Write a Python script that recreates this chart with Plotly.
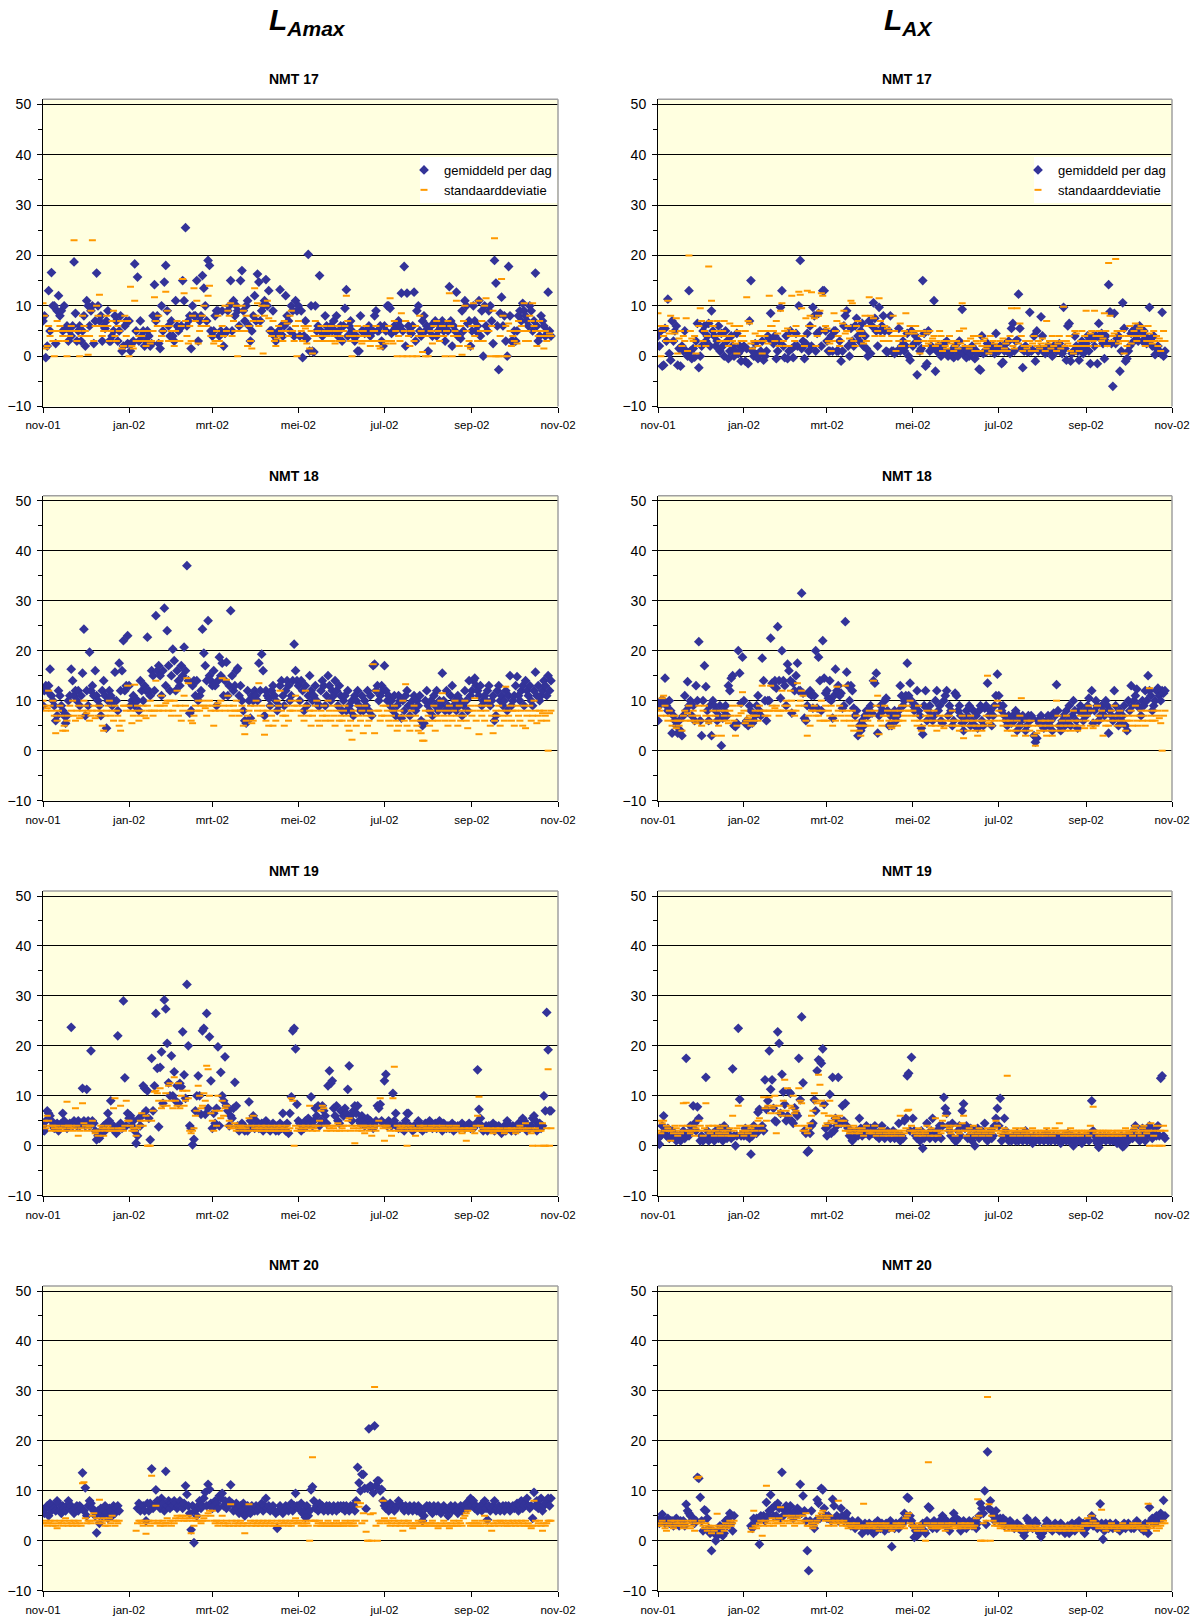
import pandas as pd
import plotly.graph_objects as go

W, H = 1199, 1621
FONT = "Liberation Sans, Arial, sans-serif"
START = "2001-11-01"

TICK_DATES = ["2001-11-01", "2002-01-01", "2002-03-01", "2002-05-01", "2002-07-01", "2002-09-01", "2002-11-01"]
TICK_TEXT = ["nov-01", "jan-02", "mrt-02", "mei-02", "jul-02", "sep-02", "nov-02"]
Y_TICKS = [-10, 0, 10, 20, 30, 40, 50]
STATIONS = ["NMT 17", "NMT 18", "NMT 19", "NMT 20"]
HEADERS = ["<b><i>L<sub>Amax</sub></i></b>", "<b><i>L<sub>AX</sub></i></b>"]
SERIES_NAMES = ["gemiddeld per dag", "standaarddeviatie"]

# ---------------- NMT 17 ----------------
nmt17_lamax_mean = [
    7,8,-0.3,2,13,5,16.6,10,10,2.5,9,12,8,9,5,10,5.5,6,3,5,4,6,18.7,8.5,3,5,6,3,5,8,
    2,11,10,6,9,10,2.5,7,16.5,10,7,8,3,6,5.5,7,9,3,3,4,5,8,7,3,5,8,1,2,6,7,2.5,
    7,1,2.5,3,18.3,5,15.7,3,7,4,5,2,3,5,4,2,2.5,8,14.2,7,8,2.5,1.5,10,5,14.7,18,9,6,4,7,
    4,3,11,6,5,5.5,6,15,11,25.5,6,7,8,1.5,10,8,8,15,3,7,8,16,13.5,10,7,19,18,5,
    4,5,8,9,9,4,5,9,2,4.5,5,9,10,15,5,11,8,10,9,6,15,17,9,7,10,11,6,3,5,8,12,
    7,16.3,14.7,7,9,10,11,15.2,10,13,5,5,9,4,3,4.5,5,13.2,6,4,6,12,8,7,5,10,9,4,11,9,
    10,4,9,-0.3,4,7,3.5,20.2,1,10,1,0.8,10,5,6,16,5,4,4.5,8,6,5,5,6,5,7,5,8,4,5,6,
    3,6,9.5,13.2,4,6,7,5,4,3,4,1,1,8,5,5,4.5,5,5,6,4,5,5,8,9,5,5,6,3,2,
    6,5,10,10,9.5,4.5,5,6,5,5.5,7,6,12.5,5,17.8,2,12.5,6,5,4.5,6,12.7,3,9,10,5,4,7,8,5,6,
    1,5,6,4,6.5,7,4,5,6,6,7,5,3,6,5,13.8,7,2,6,5,12.7,4,4,3.5,9,5,11,10,6.5,7,2,
    5,10,7,5,6,11,4,9,0,10,6,5,9,10,7,2.5,19,14.5,6,-2.7,8.5,11.7,6,8,3,0,17.8,8,3,3,
    5,3,5,8,9,7,10.5,9,8,7,6,10,9,5,7,16.5,6,3,4,8,7,6,4,5,12.7,5,4,
]
nmt17_lamax_std = [
    10.5,8,1.5,2,6,4,5,3,0,5,7,3,6,5,4,5,3,0,5,4,6,5,23,5,3,5,0,4,8,6,
    5,4,0.3,4,9,23,3,6,10,8,12.2,6,4,5,6,8,6,3,5,7,9,4,3,6,5,7,1.5,2,8,4,7,
    0,13.8,2,1.5,11,3,5,4,3,4,5,3,2,5,3,2.5,3,5,11.7,7,6,8,3,4,5,6,12.8,9,3,6,5,
    3,2,5,7,3,3,6,15.3,12.5,7,4,2.5,6,3,8,13.5,7,11,2.5,5,6,8,10,7,6,12,14,4,
    4,2.5,3,5,8,3,2,6,4,10,5,9,8,10.5,4,7,5,10,0,6,5,10,9,5,8,2,6,3,1.5,7,13.5,
    8,10.5,6,7,10,0.5,8,10,11,7.5,5,4,7,3,2,3.5,6,4,5,3,7,5,6.5,4,8,9,5,3,6,0,
    7,4,5,3,6,5.5,2.5,6,1.5,5,0.5,4,7,3,5,4,6,3,6,5,4,3,5,6,3,4,2.5,5,6,3,4,
    3,5,6,12,7,4,3,0,4,3,5,6,3,4,2.5,5,3,6,4,3,2,3,5,5,6,3,2,1.5,3,3,
    5,2.5,3,6,11.5,3,2.5,7,5,0,4,3,8.5,0,5,7,0,4,2,5,0,3,6,0,4,8,5,0.8,4,0,4,
    0,4,5,2.5,6,4,7,5,3,4,6,4,0,5,7,12.5,6,0,4,5,11,4,2,6,0.3,7,10,5,2,3,1.5,
    6,10.5,4,6,3,11,5,7,3,10,11.5,5,5,0,6,9,23.4,0,0,0,4,15.3,8,0,6,0,6.5,5,2,4,
    3,5,2.5,7,5,6,5,10.5,3,5,3,8,7,10.5,6,5,2,4,7,5,4,1.5,5,3,4,4.5,4,
]
nmt17_lax_mean = [
    4,2,5,-2,-1.8,5.5,3,11.3,0.5,-0.8,7,3,5,6,-1.8,1.5,-2,2,1,5,1,0,13,1,-0.5,1.5,-0.2,3,6.5,-2.3,
    0,2,5,6,3,4,6.5,2,9,5,4,2,3,6,1,4.5,2,0,5,3,-0.5,1,4,2,0,1,4.5,0.5,2,-1,1.5,
    2,-1,1.5,-1.5,7,15,1,0,2.5,0.3,-0.5,0.5,1,3,-0.8,0,1,4,3.5,8.5,3,2.5,4,-0.5,1,3,9.7,13,2,-0.3,4,
    -0.5,1,5,1.5,-0.3,2,4.5,2,10,19,1.5,3,-0.5,2.5,4.5,1,6,2,9.7,8,1,4.5,8.5,5,2,13,13,5,
    3,1,1,4,1,5,5,1,1,3,-1,1,6,8,9,2,0,5.5,3,2,6,7.5,4,3,5,6.5,2,4,1.5,0,7,
    0.5,6,10.6,7.5,5,2,9.7,5,6,8,5,1,0.8,5,8,1,1,0.5,0.8,1,5.5,1,2,3,1,2,4.5,0,-0.8,5,
    2,2.5,4,-3.7,3,1,1.5,15,4.5,-2,-1.5,5,1,2,1.5,11,-3,1,2,0.5,0,1.5,2.5,1,3,0,0.5,1,0,-0.3,2,
    1,0,3,1,9.3,0.5,1.5,-0.3,1,0,0.5,2,1.5,-0.5,1,0.5,-2.6,-2.8,4,0.5,1,0.8,2.5,1.5,1,1.5,2,0.5,4.5,1.5,
    1,2,-1.5,-1.2,1,2.5,1,3,0.5,5.5,6.5,1,3,3.2,12.3,5.5,1.5,-2.3,1,2,1,0.8,8.7,1,1.2,4,-1,5,1,1.5,7.8,
    4,1,0.5,0.8,2,1.5,1,0,2,1.5,1,2,2.5,1,0.5,9.7,1.5,-0.8,6,6.5,-1,0.5,1,4,2,1,-0.8,2,3,0.5,1.5,
    2.5,4,1,-1.5,3.5,4,2,4,-1.5,6.5,3.5,4.5,2.5,-0.5,4,2.7,14.2,8.8,2.5,-6,8.5,2.5,3.5,4,-3,1,10.6,5.5,-1,-0.5,
    1,2,4.5,5,3,5.5,4,3,6,5,3,5,4,2.5,3,9.7,3.5,2,4,0.3,1.5,2,1,0.5,8.7,0,1,
]
nmt17_lax_std = [
    8.5,6,0,5,4,6,3,11,4.5,8,5,3,4.5,7.5,0.5,3.5,5,2,4,3,7.5,1,20,5,3.5,3,4,0.5,2,6,
    9.5,7,3,5,2,4,17.8,7,11,6,5,4,7,5,3,4,5,7,3,4,2,6.5,4,3,6,2.5,0.5,5,6,3,4,
    3,5,11.7,7,6.5,2.5,1.5,3,4.5,3,2,4,5,0.5,3,4,5,2.5,12,6,6,5,3,7,4.5,2,9,10.5,3,5,2,
    5.5,2,4,12,5,3,6,4,12.8,12.2,9.5,4,2,7.5,13,6,8,12.7,6,7.5,2,4,8,9,12.5,12,5,6,
    5.5,3,2.5,1,3,8.5,5,7,4,2,3,6.5,9,4.5,5,6,3.5,11,10.5,3,2,6,7,5,5,4,2.5,8,3,6,11.7,
    8,6,7.5,4,6,5,11.5,7,4,3,6,3,5.5,3,5,4,8,5,1,4,3,6.5,2,4,5,8.5,3,4.5,6,2,
    5,4.5,6,3,5,0.5,4,5,3,2,4.5,2.5,5,3,3.5,4,2,3,2.5,5,4,1,3,2,1.5,3,4,2.5,3,1,2,
    3,1.5,5,2.5,10.5,5.5,2,3,2,1.5,3.5,2,4,1,3,2.5,4,1,2,3,3.5,1.5,2,0.5,4,1,3,2.5,1,2,
    2,3,1,3.5,1.5,2.5,1,3,4,9.5,2,1.5,3,9.5,2.5,6.5,4,1,2,3,1.5,2,3,1,2.5,4,1,2,3,1.5,2.5,
    3.5,2,1,7,2.5,3,1.5,4,2,3,1,2.5,4,1.5,3,9.8,2,3,2.5,4,1,2,0.5,5,4.5,2,1,3,5,2,4,
    9,3,2,4.5,5,3,9,4,2,5,4,3,3.5,8.5,5,2,18.5,8,3,4,4.5,19.3,5,2.5,3,4,5,0.5,3,2,
    4,6,2.5,4,5,6.5,3,4,5.5,6,4,5,2,3,6,4.5,3,2.5,5,3,4,2,3.5,1,3,5,3,
]

# ---------------- NMT 18 ----------------
nmt18_lamax_mean = [
    9,12,13,12,13,16.3,11,10,9,6,7,12,11,9,8,7,5.5,7,10,11,16.3,14,11,12,10,12,9,11,15.5,24.3,
    7,12,9,19.7,12,13,11,16,11,10,9,7,12,14,11,4.5,10,12,11,9,10,15.7,10,8,17.5,12,16,22,12,13,23,
    13,9,10,11,9,10,10,8,14,12,10,13,12,22.7,12,11,16,15,12,27,16,17,15,11,16,28.5,13,24,17,12,15,
    20.3,18,12,16,14,13,17,15,20.7,16,37,14,7.5,8,13,14,11,14,10,11,12,24.3,19.5,17,14,26,15,14,
    13,16,13,9,14,18.7,15,17.5,11,14,17.7,11,13,28,15,12,13,16,16.5,11,13,10,8,6,5.5,12,10,6.5,11,10,12,
    11,10,17.5,12,19.3,16,7,12,11,10.5,9,12,13,11,10,8,9,13,14,11,9,12,14,13,10,11,14,21.3,16,14,
    13,10,14,12,8,13,9,11,15,12,10,11,13,10,9,9,12,14,13,9,11,15,13,10,12,11,14,12,9,13,11,
    8,10,11,8,12,9,8,10,7,11,10,12,9,8,11,8,10,9,12,8,11,7,17,17.3,12,13,10,11,13,12,
    17,12,10,11,9,10,8,11,7,9,11,10,6.5,10,8,11,12,9,7,9,10,11,8,10,9,11,6,5,5.5,10,12,
    9,8,10,7,11,9,12,8,10,9,15.5,10,8,12,9,8,11,13,9,10,8,11,9,10,7,9,12,10,8,14,11,
    12,14,14.5,13,12,11,13,9,10,11,10,12,13,9,10,11,6,7,12,13,10,11,9,10,12,8,11,15,9,10,
    11,13,14.8,11,10,12,13,9,14,12,11,13,10,9,12,15.7,11,13,10,11,12,14,13,11,15,12,14,
]
nmt18_lamax_std = [
    10,9,8,8.5,12,9,8,10,7,3.5,6,8,9,7,4,5,4,6,7,9,8,10,7,6,8,9,6.5,7,8,10,
    9,7.5,8,6,7,8,9,6.5,8,7,9,8,5,4,7,8,9,10,7,8,6,9,8,7,5,4,6,9,9,8,13,
    9,8,5.5,7,13.2,8,9,6,7,8,9,7,6.5,9,8,10,8,7,8,14,9,8,9,11,8,9,9.5,10,8,10,7,
    8,10,9,12,7,9,6,8,11,9,14.5,13.5,8,6,5.5,7,9,8,10,8,9,10,9,8.5,7,9,10,8,
    9,5,8,9,9.5,8,10,14.5,9,8,14.2,11,9,8,7,9,8,10,8,7,8,9,5,3.3,6,7,8,9,5.5,6,9,
    10,8,13.5,7,9,8,3.2,6,8,5,9,7,5,8,6,10,9,12,8,7,5,7,9,6,8,10,8,9,11,9,
    10,8,7,9,6,12,9,7,8,5,7,8,9,10,6,5,8,7,9,6,7,10,8,6,9,7,5,8,9,6,7,
    6,8,9,7,5,4,6,2.2,8,7,5,9,7,6,8,3.5,9,7,5,6,8,7,17.3,3.5,12,8,8,6,7,9,
    7,9,8,6,5,7,8,9,6,4,5,8,7,10,6,13.3,5,7,4,8,6,9,7,5,4,6,3.5,2,2,8,6,
    7,5,8,6,9,4,7,6,8,10,11.5,7,6,8,5,9,7,6,8,10,7,5,9,6,8,7,10,6,4.5,8,9,
    7,8,10.5,6,9,3.3,8,7,9,6,8,10,9,5,7,3.5,6,8,7,9,5,8,7,6,12.8,8,7,9,6,8,
    5,8,9,7,6,8,5,9,4.5,7,8,9,6,7,10,8,5.5,7,8,6,7.5,8,7,6,0,7.5,8,
]
nmt18_lax_mean = [
    6,9,10,10,10,14.5,9,8,10,8,3.5,7,6,5,3.5,6,4,3,7,11,8,13.8,9,10,7,9,6,13,10,21.8,
    6,3,10,17,12.8,8,6,9,3,10,9,8,6,7,9,1,6.5,8,9,7,13,12,14.5,15,5,4.8,5.5,20,15.5,9.5,18.7,
    10,5.5,6,5,9,8,5.5,6,7,9,11,8,7,18.5,14,10,6,10,10,22.5,13.5,13,14,12.5,24.8,14,10.5,20,14,13,9,
    17.3,16,14,7.5,13.5,12,15,17.5,12,12,31.5,11.5,6.5,6,9,11.5,12,11,8.5,11,20,8.5,18.7,14,8,22,14.5,11.5,
    12,10.5,14,10,6.5,11,16.3,12,13,11,11.5,8.5,9,25.8,15.7,13,10,13,12,8.5,7,8,3,5,4,6,5,7,8,7,8,
    9,7.5,14,13.5,15.5,3.5,7,9,8,8,10,10.5,8,5,7,5,7,8,6,7,8,13,11,9,10,11,17.5,11,13.5,10,
    9,8,9,12,8,7,4.5,3.3,9,12,6,8,9,7,6,7,10,12,8,9,6,5.5,10,11,12,7,9,8,5,6,11.5,
    11,8,9,7,5.5,4,6,8,7,9,5,6,8,5,7,4.5,8,9,6,5,8.5,9,13.5,7,8,5,7,9,11,15.3,
    11,9,8,9,7,6,5,7,6.5,5.5,7,6,8,4,7,5,6,7,6.5,4,5,7,6,7,6.5,3,1.7,2.5,6,5.5,7,
    6,4.5,5,6,7,5,6,4,7.5,7,13.2,8,5,4,6,7,5,8,6,9,5,7,10,8,6,4.5,8,9,7.5,6,8,
    7,9,10.5,8,12,5.5,8,10,9,6,7,9,8,7,10,9,3.5,8,7,6,12,9,7,5,8,6,7,9,5,4,
    10,8,13,9,10,11,12.3,9,8.5,7,10,9,12,10,15,12,11,8,9,10,12,12.5,11,10,12,11.5,12,
]
nmt18_lax_std = [
    8.5,8,7,10.5,11,9,7,6,8,7,5,6,7,4.5,6,5,6,4,7,8,6,7.5,9,6,7,8,6,5.5,7,9,
    6,5,8,9,7,6,5.5,7,6,8,3,7,6,5,8,3,6,7,8,6,5.5,8,7,9,6,3,5,7,9,7.5,11.7,
    8,5.5,6,6.5,7,5,6,7,8,7,6,9,8,13,8,7,8,7,8,13,9,8,8.5,9,8,7,8,12,8,9,10,
    9,8,12,10,8,7,8,13.5,9,10,12,11,9,6,3,7,5,8,8,9,7,8,7,6,10,8,6,9,
    6,8,7,9,5,7,6,12.8,8,9,7,8,6,13,8,7,6,5,8,4,6,7,5,4,3,5,6,5,7,6,8,
    5,7,14,8,9,11,3.3,6,5,7,9,7,8,6,5,4.5,6,8,7,5,6,8,9,6,7,8,9,8,10,7,
    8,6,7,5,9,6,4,5,6,7,8,6,7,5,6,8,5,4,6,7,5,6,4.5,7,6,5,7,6,8,5,6,
    5,6,4,5,7,2.5,6,5,4,6,7,5,6,4,5,3,6,5,4,6,5,7,15,5.5,6,5,7,6,9,10,
    8,7,6,5,7,6,4,5,6,4,5,3,4,6,5,7,10.5,4,5,3,6,5,4,6,5,3,1,3.5,5,4,6,
    5,4,6,3,5,4,6,3,5,4,10,7,5,4,6,5,4,7,5,6,4,5,8,6,5,4,6,7,5,8,4.5,
    6,7,9,5,8,4.5,6,5,9,7,6,8,3,6,5,7,5,6,8,7,9,6,5,7,8,6,5,7,4,6,
    7,6,8,5,7,9,6,5,7,8,6,7,5,8,6,12.5,7,6,8,6,7,8,6.5,5.5,0,7,8,
]

# ---------------- NMT 19 ----------------
nmt19_lamax_mean = [
    4,3,5,7,6.5,6,5,4,3.5,4,4.5,3,4,4.5,6.5,5,4,3.5,4,4.5,23.7,4,5,4.5,4,5,4,4.5,11.5,5,
    4,11.3,5,4,19,5,4.5,3,1.2,2,1.5,3,2.5,4,3,4.5,6.5,5,9,3.5,4,3,2.5,22,4,4.5,3.5,29,13.6,4,6.5,
    5.5,6,4,5,3,0.5,2,5.5,4,6,12,11.5,7,11,5.5,1.2,17.5,7,12,26.5,15.5,3.8,15.7,18.8,8.5,29.2,27.4,20.5,12.6,10,18,
    10,14.8,9,12,8.5,12.5,11.8,22.8,14.2,9.5,32.3,20,4,3.5,0.2,1.3,7,10,14,10,6.3,23,23.5,6.3,26.5,7.5,21.8,13,
    3.5,6.5,4.5,7.5,19.8,4,14.7,10,9,17.8,8,7,4,6,5.5,7.5,12.7,8,4,3,3.5,4.5,4,3,3.5,3,8.8,5,4,6,3.5,
    5,4,3.5,4,4.5,3,4,5,3.5,4,3,3.5,4.5,4,3,4,3,4.5,3.5,6.5,4,3,4.5,2.5,6.5,9.8,23,23.5,19.4,8.3,
    5,4.5,3,4,3.5,5,4,5.5,4.5,9.8,4,5,7.5,6,8,4,5,8,7,6,4.5,12,15,12.5,13,7.5,6,8,5,4.5,7,
    7,6,7.5,6.5,11.3,16,6,5,7,8,6.5,8,5,4.5,6,5,4,4.5,5.5,4,5,4.5,3.5,4,5,8,7.5,8.3,5,4.5,
    13,14.3,4,5,4.5,4,10.5,5,6.5,4,3.5,4,3.5,4,3,5,6.5,6.5,4,3.5,3,4,3.5,4,5,3.5,4,3,4,4.5,3.5,
    4,5,4,3.5,4,4.5,3.5,4,5,4,3,4.5,4,3.5,4,3.5,4,4.5,3,4,3.5,4,3.5,4,4.5,4,3.5,4,4,4.5,3.5,
    4,3.5,4,4.5,15.2,7.3,5.5,4,3,3.5,4,3,4,3.5,4,4.5,3,4,3.5,4,3,2.5,3.5,4,3,5,3.5,4,3,4,
    3.5,3,4,4.5,3.5,4,5.5,5,4,3,4,3.5,4,5.5,6,5,3,4,4.5,3.5,4,10,7,26.7,19.2,7,7,
]
nmt19_lamax_std = [
    4,5,3.5,6,5,4,3,4,3.5,3,4,3.5,3,3,3.5,4,3,8.8,4,3.5,4,3,3.5,7.5,4,2,3,3.5,8.5,4.5,
    4,3,3.5,4,4,5,3,2.5,3,2,3,4,3.5,2,3,3.5,4,3,3.5,3,7.5,9.5,3,3.5,3,8,3.5,3,4,9,5,
    5,4,3,3.5,3,2,3.5,4,5,6.5,4,5,6,0,0,0,5,7,10.8,11,10.5,9,11.5,7.5,8,9,10.5,8,12,12.5,9,
    7.5,13.7,9,8,12.5,7.5,10,11,8,9,11,9.5,3,2.5,3,3.5,6,7,12,10,7.5,8,10.5,9,16,15.3,10,6.5,
    5,3,7,4,10,7,5.5,9,6,7.5,8,4,5,3.5,4,3.5,4.5,3,4,3.5,4,3.5,3,4,3.5,3,5.5,4,3,6,3.5,
    4,3,3.5,3,4,3.5,3,4,3,3.5,3,4,3,3.5,3,4,3,3.5,4,3,3.5,3,4,3,3.5,9.5,9,0,4,3,
    3.5,3,4,3,3.5,4,3,3.5,8,4,3,3.5,4,3,4,5,7,8,7.5,4,3,4,3.5,3,4,3.5,4,3,4.5,3,4,
    3.5,4,3,4,5,5.5,3,4,3.5,0.5,4,3,3.5,4,3,4,2.5,3.5,4,3,3.5,2,4,3.5,3,4,5,9.5,4,3.5,
    1,4,4,3.5,3,2,9.5,15.8,3,4,3,3.5,4,3.5,3,4,0,3.5,3,4,3.5,3,2,3.5,3,4,3,3.5,4,3,3.5,
    3,3.5,4,3,3.5,3,4,3,3.5,3,4,3.5,3,3.5,3,4,3,3.5,3,3.5,4,3,3.5,3,2.5,3,3.5,1,3,3.5,3,
    3,3.5,2.5,4,6,9.8,4,3,3.5,3,3.5,3,3,3.5,3,2.5,3,3.5,3,3,3.5,3,3,2.5,3,3.5,3,3,3.5,3,
    3,2.5,3.5,3,4,3,3.5,3,4.5,3,3.5,3,2.5,0,3,3.5,3,0,3,3,4.5,0,0,3.5,15.3,0,3.5,
]
nmt19_lax_mean = [
    1.5,0.3,2,4,6,3,2,3.5,1.5,2,3,2.5,1.5,1,2,1.5,1,2.5,3,1.5,17.5,2.5,2,4,3,8,4.5,3,7.8,5.5,
    1,2,1,1.5,13.7,3,1,1.5,2,2.5,1,3,2,1.5,3.5,2,1,4,2.5,1.5,3,2,1.5,15.4,2,0,2,23.5,9.3,2,2.5,
    2,3.5,2,3,1.5,-1.7,2,4,3,2.5,6.7,7.3,3.5,4,3,13.2,7.3,9,19,11.3,13.2,7.5,5,4.8,22.8,20.5,6.5,14.3,10.8,8.3,5,
    6,10.8,10.5,5,4.5,7.6,6.5,6,17.5,9.2,25.8,12.6,3,2.5,-1.3,-1,2.5,4,4.5,9.2,7,15,17.2,17,16.5,19.4,8.3,3.5,
    2,4,10.3,2.5,13.7,3,5.5,4,13.7,5,4.5,8,5,8.5,4,3.5,2,3,1,1.5,2.5,3,2,5.5,3.5,2,3,2.5,4,3,2,
    3.5,2.5,3,4,2,2.5,1.5,3,4,2,1.5,2.5,3,2,1.5,2,3,1.5,2.5,2,4.5,1,2,1.5,5,5.5,14,14.5,3,17.7,
    5.5,3,2,1.5,2.5,1,3,-0.5,1.5,2,4.5,2.5,1.5,3,5.5,2,1.5,3,2,4,1.5,4,9.7,7.5,6.5,4,3,2,4.5,1.5,1,
    1,3,4,2,7,8.4,3.5,4,1.5,2,3.5,1,2,0,2.5,3.5,1.5,2,3,2,4.5,1.5,1,2.5,3,1.5,2,4,5.5,7.5,
    4,9.5,1,2,5.5,3,2,1,1.5,1,2,1.5,1,2.5,1,1.5,2,1,1.5,3,1,2,1.5,1,0.5,2,1,1.5,2,1,1.5,
    2,1,1.5,2.5,1,2,1,1.5,2,1,1.5,2,1,0.5,1,2,1.5,1,2.5,1,1.5,2,0,1,1.5,1,2,1.5,0.5,1,2,
    1.5,2,1,2.5,9,3,2,1,0.5,-0.3,2,1,1.5,2,1,1.5,2,1,1.5,1,2,1,0.5,1.5,1,2,-0.2,0,1,2,
    1,2,2.5,1.5,3,4,2,1.5,1,2,3.5,2.5,1,2,3,4,2,1.5,2.5,3.5,2,4,2,13.5,14,2,1.5,
]
nmt19_lax_std = [
    3,5,2.5,4.5,5,3,4,3.5,3,1,3,2.5,4,3.5,2,3,2.5,4,8.5,3,8.6,4,3,2.5,3,4,2,3.5,3,5,
    4,3,2,3.5,8.5,3,4,2.5,3,4,2,3,4,2.5,3.5,2,3,4,2.5,3,2,3.5,2,6,3,2,3.5,8,4,2.5,3,
    2,3,4,2.5,3,3.5,4,2,3,4,5,5.5,4,3,9.7,7.5,5,8,9.7,6.5,7.5,8,10,2.5,6.5,8,7,6,9,13.2,7,
    11.5,6,8,7.5,10,6.5,7,4,11.5,9,8.5,3,4,3,2.5,3.5,4.5,6,7,10.5,9,8.5,14.2,12.2,9,8,6.5,4,
    4.5,6,9,5,6,4.5,5.5,5.5,4,6,5,4,5,3,4,3,2.5,3.5,3,4,2.5,3.5,3,2.5,3,3.5,2,3,4,3,2.5,
    3,2.5,3,4,2,3,2.5,3,3.5,2,3,2.5,3,2,3,2.5,3,2,3,2.5,3,6,2,3,2.5,3.5,7,7.2,3,4,
    3,2.5,3,2,3.5,2.5,3,2,3,2.5,4,3,2,3.5,3,2,5.5,3,2,3,2.5,5,4,6,3,4,3.5,2.5,3,4,2,
    3,4,2.5,3,4.5,6,3,2,3,3.5,2.5,3,4,2,3,2.5,3.5,3,2,3,2.5,3,3.5,2,3,2.5,3,3.5,5,4,
    3,2.5,2,3,3.5,2.5,14,3,2.5,3,2,3,3.5,2.5,3,2,3,3.5,2.5,3,2,3,2.5,3,3.5,2,3,2.5,3,2,3,
    2.5,3,2,3.5,3,2.5,3,2,3,3.5,2.5,3,4.5,2.5,3,2,3,2.5,3,2,3.5,2.5,3,2,3,2.5,3,2,3,2.5,3,
    2.5,3,2,4,3,7.8,3,2.5,3,2,3,2.5,3,2,3,2.5,3,2,2.5,3,2,2.5,3,2,3,2.5,2,3,3.5,2.5,
    3,2.5,3,2,3.5,4,3,2.5,3,2,3.5,4,3,2.5,3,0,4.5,3,2,0,4,3,0,3,0,4,3,
]

# ---------------- NMT 20 ----------------
nmt20_lamax_mean = [
    6,5.5,6.5,7,5,7.5,6,7,6.5,6,8,7.5,6,5.5,7,6.5,6,7,8,6.5,7,6,5.5,6.5,7,6,7,6.5,13.6,6,
    10.6,5,7,8,7.5,6.5,6,5,1.6,6,3.5,6.5,5,6,7,5.5,4.5,6.5,6,5,7,5.5,6.5,7,6,None,None,None,None,None,None,
    None,None,None,None,None,None,6.5,7.5,6,6.5,7,6,4,7.5,6,7.5,14.4,6.5,7,10.2,8,7,6.5,8.5,7.5,6,13.9,7,8,6.5,7.5,
    7,8,7.5,6.5,7,8,7,6.5,7.5,11,9.3,7,5.5,2.2,7,-0.4,6,5,7,8,6.5,7,8.5,9.7,7,11.3,10.3,7.5,
    6.5,7,8,7.5,6.5,9,8.5,9.5,7,8,6.5,7,8,11.2,7.5,6,7,7.5,6.5,5.5,7,6,7.5,5,6.5,7,6,5.5,7,6.5,6,
    7,6,6.5,7,7.5,6,7,8.5,6.5,7,6,6.5,7,6,5.5,2.5,6,7,6.5,5.5,6,7,6.5,6,7,7.5,6,7,9.5,7,
    6.5,7,7.5,5.5,6,4.7,7,5,6,10.2,10.8,8,6.5,7,6,7.5,6.5,7,6,6.5,7,6,7,6.5,6,7,6.5,6,7,6.5,7,
    6.5,7,6,7,6.5,6,7,6.5,7,6,8,14.7,11.6,10,13.3,13.3,10.5,6.4,10.5,22.4,11,10.8,9.6,23,11,12,12,10,10.3,8,
    7,6.5,7,6,7.5,6.5,7,6,6.5,7,8,7.5,7,6.5,6,7,6.5,6,7,6.5,6,7,6.5,6,7,6.5,5.5,4,5,6.5,7,
    6.5,7,6,5.5,7,6.5,6,7,6.5,5.5,6,7,6.5,6,5,6.5,7,6,6.5,7,6,5.5,6.5,7,6,6.5,7,7.5,6.5,8,8.5,
    7,8,6.5,7,6,6.5,7,6,7.5,8,6.5,4.2,7,6,6.5,7,8,6,6.5,7,6,6.5,7,6,7,6.5,7,6,6.5,7,
    6.5,7,7.5,6,7,8,6.5,7,7.5,8.5,7,6.5,7,4.5,9.7,7,8,6.5,7,8.5,6,7,7.5,8,8.5,7,8.5,
]
nmt20_lamax_std = [
    3.5,3.5,4,3,3.5,4,3.5,3,4,3,2.5,3.5,4,3.5,3,4,4.5,3.5,3,4,3.5,3,4,3.5,3,4,3.5,3,11.5,11.7,
    4.5,3.5,4,4,3.5,5,5.5,4,4.5,3.5,8.2,4,3.5,4.5,3,4,3,4.5,3.5,5,4,3,4,3.5,4,None,None,None,None,None,None,
    None,None,None,None,None,2,3.5,4,4,3.5,3,4,1.4,3.5,4,3,13,4,3.5,7,3.5,4,3,3.5,4,3,3.5,4.5,3.5,4,3,
    4,3.5,4.5,5,4,4.5,5,5,4,4.5,4,5,4.5,1.5,4,3,4.5,4,5,4,3.5,4,4.5,5,4,5.5,6,5,
    6,4,3.5,4,3,3.5,4,5,3.5,3,4,3.5,3,7.3,4,3,3.5,4,3,3.5,4,3,3.5,1.5,3,3.5,7.3,4,3,3.5,4,
    3,3.5,4,3,3.5,4,3,3.5,4,3,3.5,4,3,3.5,3,4,3,3.5,4,3,3.5,4,3.5,3,4,3,3.5,4,4.5,3.5,
    3.5,4,3,3.5,3,4,3.5,3,0,4,16.7,4,4,3,3.5,4,3,3.5,3,3.5,3,4,3,3.5,3,3.5,3,4,3,3.5,3,
    3.5,3,4,3.5,3,3.5,4,3,3.5,3,4,7.7,6.8,7.5,3.5,5.5,4,1.8,0,0,5.3,0,5.5,30.8,3,0,4,3.5,4,8,
    4.5,4,3.5,4,3,3.5,4.5,4,3,3.5,4,3,3.5,2,4,3,3.5,4,3,3.5,2.5,3,3.5,3,4,3.5,3,4,3,3.5,3,
    3.5,3,3.5,4,3,3.5,3,2.5,3,3.5,3,4,3,3.5,3,2.5,3.5,3,4,3,3.5,3,4,3.5,3,4.5,5,5.5,6,3.5,3,
    3.5,3,4,3.5,3,3.5,3,4,3,5,3.5,4,3,3,2,3.5,3,4,3.5,3,4,3.5,4,3,3.5,3,4,3.5,3,4,
    3.5,3,4,3.5,3,4,3.5,3,4,3,3.5,3,2.5,3,8,4,3,3.5,4,3,2,3.5,3,3.5,4,4,4,
]
nmt20_lax_mean = [
    4,3.5,4.5,5.3,4,3.5,4,4.5,3.5,4,4,3,3.5,4.5,4,3,4,3.5,4,3,7.3,6,5.5,5,4,4.5,3.5,4,12.7,12.5,
    8.7,4,2,6.2,6,4.5,2.5,1.5,-2,2,1.5,0,1,2,3,2.5,1,1.5,4,3,4.5,5.5,3.5,2,5,None,None,None,None,None,None,
    None,None,None,None,None,3,2.5,4.5,4,4.5,4,-0.7,5,4.5,5,4,7.7,5,6,9.2,6.5,5,7,5,7.5,6.5,4.5,13.7,5,6,7,
    6,5.5,7,5,4.5,6,5,6.5,5.5,11.3,5.5,9,6,4,-2,-6,4,6,3,2.5,4,8.2,7.5,4.5,10.5,10.2,6.5,5,
    4.5,5,4.5,4,8.3,7,4.5,5,4,4.5,6.5,5,4,5,5.5,4,3.5,3,4,3.5,2.5,3,4,3.5,3,1.5,2.5,3.5,3,2,3.5,
    3,2.5,1.5,3.5,2,4,3,2.5,3.5,3,2,3.5,3,2.5,4,-1.2,3,2.5,3.5,3,2.5,3,4,3.5,5.5,4.5,8.7,8.5,5,4,
    3,0.7,2,1,1.5,2.5,3,3.5,2,1.5,4,6.8,6.5,3,2.5,4,3.5,2.5,3,4,3.5,5,4.5,3,4,3,2,3.5,4,5.5,4,
    4.5,3.5,4,2,3,4,3.5,2.5,3,4,3.5,3,4,3,2.5,3.5,5,7.5,6.5,5.5,10,3.3,17.8,6.5,8,6,5,4,6,4.5,
    4,4.5,3.5,4.5,3,4,3.5,3,4,3.5,3,2.5,3,3.5,2.5,3,2,2.5,1,2,4.5,4,3.5,3,2.5,3,4,3.5,2,1.5,0.8,
    1.5,2,3,4,3.5,2.5,3,2,3,3.5,2.5,3,2,3.5,3,2.5,1.5,2,3,1.5,2.5,3.5,3,2,3.5,3,4,2.5,3,3.5,1.5,
    2.5,3,4,3.5,5,3,4,3.5,2.5,3,7.4,3.5,0.3,2,3.5,3,2.5,3.5,3,2.5,3,3.5,2.5,3,2,2.5,3,3.5,2.5,3,
    3.5,3,2.5,3,2.5,3,4,3.5,3,2.5,3,2,3.5,2.5,1.5,6.7,4,4.5,3.5,4.5,5,4,5,5.5,4.5,8.1,5,
]
nmt20_lax_std = [
    3,3.5,3,4,3.5,2.5,2,3,3.5,4,3,2.5,4,3.5,3,3.5,4,3,2.5,3.5,3,4,3.5,2.5,3,4,2,3.5,12.5,12.8,
    3.5,4,3,2.5,3.5,2,3,2.5,1.5,3,2,2.5,5.4,3,1.5,2.5,3,2,3.5,2.5,3,4,3,3.5,4,None,None,None,None,None,None,
    None,None,None,None,None,1.8,2.5,6,3,2.5,3,3.5,4,1,3,4,11,3.5,3,4,4.5,3,3.5,4,3.5,4.5,6.7,3.5,3,4,5,
    4,3.5,4.5,5,4,3,3.5,4.5,5,4,3.5,5,4,5.5,3,3,4,3.5,2.5,3,3.5,4,5,4.5,5.5,6,5,4,
    4.5,3,5,4,3.5,3,4,3.5,8,4,3.5,3,4,3.5,3,2.5,3,3.5,3,2.5,3,3.5,2.5,3,2.5,3,7.4,3,2.5,3,3.5,
    3,2.5,3,3.5,2.5,3,2,3.5,3,2.5,3,3.5,3,2.5,3,2,2.5,3,3.5,3,2.5,3,3.5,3,2.5,4.5,5,5.5,3.5,3,
    3,2.5,3,2,3.5,3,2.5,3,2,0,3.5,15.7,3,2.5,3,3.5,2.5,3,2.5,3,3.5,2.5,3,2,3,3.5,2.5,3,3.5,2.5,3,
    3,2.5,3,3.5,2.5,3,3.5,3,2.5,3,3.5,3,2.5,3,4.5,8.3,5,0,0,3.5,0,4,28.8,7.3,0,5,4,3,3.5,3,
    3,2.5,3,3.5,2.5,3,2,2.5,3,2.5,3,2,2.5,3,2.5,2,3,2.5,2,3,2.5,3,2.5,2,3,2.5,2,3,2.5,2,2.5,
    2,2.5,3,2.5,2,3,2.5,2,2.5,3,2.5,2,3,2.5,2,2.5,3,2,2.5,3,2.5,2,3,2.5,2,2.5,3,2.5,2,3,3.5,
    3,4.5,3.5,3,5,4,3,3.5,3,2.5,3,6.2,3,2.5,2,3,2.5,3,3.5,3,2.5,3,2,3,2.5,3,3.5,2.5,3,2.5,
    3,2.5,3,3.5,3,2.5,3,3.5,2.5,3,2.5,2,3,2.5,7.4,3.5,3,2.5,3,3.5,2,3,2.5,3,3.5,4,3.5,
]

PANELS = [
    [(nmt17_lamax_mean, nmt17_lamax_std), (nmt17_lax_mean, nmt17_lax_std)],
    [(nmt18_lamax_mean, nmt18_lamax_std), (nmt18_lax_mean, nmt18_lax_std)],
    [(nmt19_lamax_mean, nmt19_lamax_std), (nmt19_lax_mean, nmt19_lax_std)],
    [(nmt20_lamax_mean, nmt20_lamax_std), (nmt20_lax_mean, nmt20_lax_std)],
]

# ---------------- layout geometry (pixels) ----------------
COL_X = [(43, 558), (658, 1172)]
ROW_Y = [(99.3, 406.5), (495.7, 800.7), (891, 1195.7), (1286, 1590.7)]
TITLE_Y = [79, 475.7, 870.7, 1265]
TITLE_X = [294, 907]
HEADER_X = [307, 908]
HEADER_Y = 22
LEGEND_BOX = [(420, 157, 557, 203), (1034, 157, 1171, 203)]

MEAN_COLOR = "#333399"
STD_COLOR = "#FF9900"
BG = "#FFFFE0"


def px_x(v):
    return v / W


def px_y(v):
    return 1 - v / H


fig = go.Figure()
layout = dict(
    width=W, height=H, margin=dict(l=0, r=0, t=0, b=0, autoexpand=False),
    paper_bgcolor="white", plot_bgcolor=BG,
    font=dict(family=FONT, color="black"),
    showlegend=True,
)
shapes = []
annotations = []

for r in range(4):
    for c in range(2):
        i = r * 2 + c + 1
        sfx = "" if i == 1 else str(i)
        mean_vals, std_vals = PANELS[r][c]
        d_mean = pd.date_range(START, periods=len(mean_vals), freq="D")
        d_std = pd.date_range(START, periods=len(std_vals), freq="D")
        leg = "legend" if c == 0 else "legend2"
        show = r == 0
        fig.add_trace(go.Scatter(
            x=d_mean, y=mean_vals, mode="markers", name=SERIES_NAMES[0],
            marker=dict(symbol="diamond", size=7.5, color=MEAN_COLOR, line=dict(width=0)),
            xaxis="x" + sfx, yaxis="y" + sfx, showlegend=show, legend=leg, hoverinfo="skip",
        ))
        fig.add_trace(go.Scatter(
            x=d_std, y=std_vals, mode="markers", name=SERIES_NAMES[1],
            marker=dict(symbol="line-ew", size=5, color=STD_COLOR, line=dict(width=2, color=STD_COLOR)),
            xaxis="x" + sfx, yaxis="y" + sfx, showlegend=show, legend=leg, hoverinfo="skip",
        ))
        x0, x1 = COL_X[c]
        y0, y1 = ROW_Y[r]
        layout["xaxis" + sfx] = dict(
            domain=[px_x(x0), px_x(x1)], anchor="y" + sfx, type="date",
            range=[TICK_DATES[0], TICK_DATES[-1]],
            tickmode="array", tickvals=TICK_DATES, ticktext=TICK_TEXT,
            ticks="outside", ticklen=5, tickcolor="black", tickwidth=1,
            showline=True, linecolor="black", linewidth=1,
            showgrid=False, zeroline=False, fixedrange=True, automargin=False,
            tickfont=dict(size=11.5, family=FONT, color="black"), ticklabelstandoff=3,
        )
        layout["yaxis" + sfx] = dict(
            domain=[px_y(y1), px_y(y0)], anchor="x" + sfx,
            range=[-10, 51], tickmode="array", tickvals=Y_TICKS,
            ticks="outside", ticklen=5, tickcolor="black", tickwidth=1,
            minor=dict(tickmode="array", tickvals=[-5, 5, 15, 25, 35, 45], ticks="outside",
                       ticklen=4, tickcolor="black", showgrid=False),
            showline=True, linecolor="black", linewidth=1,
            showgrid=True, gridcolor="black", gridwidth=1,
            zeroline=False, fixedrange=True, automargin=False,
            tickfont=dict(size=14, family=FONT, color="black"), ticklabelstandoff=3,
        )
        # gray frame (top and right edges of plot area)
        shapes.append(dict(type="line", xref="x" + sfx + " domain", yref="y" + sfx + " domain",
                           x0=0, x1=1, y0=1, y1=1, line=dict(color="#A0A0A0", width=1.5)))
        shapes.append(dict(type="line", xref="x" + sfx + " domain", yref="y" + sfx + " domain",
                           x0=1, x1=1, y0=0, y1=1, line=dict(color="#A0A0A0", width=1.5)))
        annotations.append(dict(
            text="<b>" + STATIONS[r] + "</b>", x=px_x(TITLE_X[c]), y=px_y(TITLE_Y[r]),
            xref="paper", yref="paper", xanchor="center", yanchor="middle", showarrow=False,
            font=dict(size=14, family=FONT, color="black"),
        ))

# white legend boxes (legend background) sitting between the 40 and 30 gridlines
for bx0, by0, bx1, by1 in LEGEND_BOX:
    shapes.append(dict(type="rect", xref="paper", yref="paper", layer="above",
                       x0=px_x(bx0), x1=px_x(bx1), y0=px_y(by1), y1=px_y(by0),
                       fillcolor="white", line=dict(width=0)))

for c in range(2):
    annotations.append(dict(
        text=HEADERS[c], x=px_x(HEADER_X[c]), y=px_y(HEADER_Y),
        xref="paper", yref="paper", xanchor="center", yanchor="middle", showarrow=False,
        font=dict(size=30, family=FONT, color="black"),
    ))

for key, c in (("legend", 0), ("legend2", 1)):
    layout[key] = dict(
        x=px_x(COL_X[c][1] - 1), y=px_y(155), xanchor="right", yanchor="top",
        bgcolor="rgba(0,0,0,0)", borderwidth=0, font=dict(size=13, family=FONT, color="black"),
        tracegroupgap=0, itemwidth=30,
    )
layout["shapes"] = shapes
layout["annotations"] = annotations
fig.update_layout(**layout)

fig.write_html("out.html")
